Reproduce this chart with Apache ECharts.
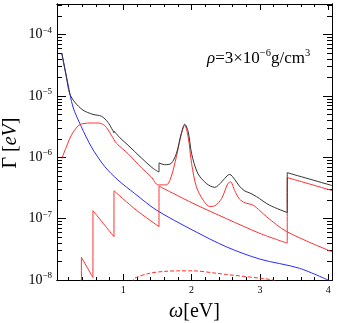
<!DOCTYPE html>
<html>
<head>
<meta charset="utf-8">
<script src="https://cdn.jsdelivr.net/npm/echarts@6.0.0/dist/echarts.min.js"></script>
<style>
html, body { margin: 0; padding: 0; background: #fff; }
#main { width: 337px; height: 323px; }
</style>
</head>
<body>
<div id="main"></div>
<script>
// [omega (eV), Gamma (eV)]; a repeated omega is a jump
const total = [
  [0.10, 5.01e-5], [0.167, 2.04e-5], [0.215, 1.10e-5], [0.29, 7.94e-6], [0.41, 5.89e-6],
  [0.556, 5.01e-6], [0.68, 4.68e-6], [0.776, 3.72e-6], [0.864, 2.51e-6], [0.864, 2.69e-6],
  [0.95, 2.09e-6], [1.069, 1.58e-6], [1.265, 9.77e-7], [1.435, 6.61e-7], [1.523, 5.75e-7],
  [1.523, 8.13e-7], [1.606, 7.59e-7], [1.70, 7.94e-7], [1.777, 1.15e-6], [1.85, 2.45e-6],
  [1.90, 3.47e-6], [1.95, 2.63e-6], [2.0, 1.15e-6], [2.09, 5.50e-7], [2.22, 3.72e-7],
  [2.34, 3.24e-7], [2.44, 3.98e-7], [2.53, 5.13e-7], [2.56, 5.25e-7], [2.63, 4.37e-7],
  [2.70, 3.39e-7], [2.78, 2.82e-7], [2.85, 2.63e-7], [2.95, 2.29e-7], [3.14, 1.66e-7],
  [3.40, 1.26e-7], [3.40, 5.62e-7], [4.055, 3.47e-7]
];
const boundBound = [
  [0.10, 9.55e-7], [0.167, 1.48e-6], [0.24, 2.29e-6], [0.337, 3.24e-6], [0.41, 3.55e-6],
  [0.55, 3.63e-6], [0.63, 3.63e-6], [0.728, 3.31e-6], [0.826, 2.29e-6], [0.90, 1.70e-6],
  [1.069, 1.15e-6], [1.265, 6.76e-7], [1.41, 4.79e-7], [1.51, 3.55e-7], [1.63, 3.55e-7],
  [1.70, 4.79e-7], [1.777, 1.02e-6], [1.85, 2.45e-6], [1.90, 3.31e-6], [1.95, 2.14e-6],
  [2.0, 7.94e-7], [2.07, 3.31e-7], [2.17, 2.00e-7], [2.265, 1.58e-7], [2.34, 1.62e-7],
  [2.44, 2.14e-7], [2.53, 3.72e-7], [2.57, 3.98e-7], [2.63, 2.88e-7], [2.70, 2.09e-7],
  [2.78, 1.82e-7], [2.90, 1.66e-7], [3.0, 1.35e-7], [3.1, 1.07e-7], [3.39, 6.17e-8],
  [4.055, 2.88e-8]
];
const boundFree = [
  [0.387, 1e-9], [0.387, 2.34e-8], [0.556, 1.10e-8], [0.556, 1.35e-7], [0.71, 8.3e-8],
  [0.864, 5.07e-8], [0.864, 2.85e-7], [1.19, 1.38e-7], [1.523, 7.41e-8], [1.523, 3.39e-7],
  [2.02, 1.78e-7], [2.51, 1.0e-7], [3.0, 5.75e-8], [3.40, 3.98e-8], [3.40, 4.68e-7],
  [4.055, 2.88e-7]
];
const freeFree = [
  [0.10, 5.01e-5], [0.19, 1.58e-5], [0.264, 6.61e-6], [0.386, 3.16e-6], [0.533, 1.48e-6],
  [0.728, 7.08e-7], [0.922, 4.27e-7], [1.167, 2.57e-7], [1.485, 1.38e-7], [2.02, 6.46e-8],
  [2.51, 3.47e-8], [3.0, 2.19e-8], [3.58, 1.55e-8], [4.055, 9.33e-9]
];
const other = [
  [1.13, 8.9e-9], [1.167, 1.07e-8], [1.39, 1.29e-8], [1.6, 1.38e-8], [1.83, 1.41e-8],
  [2.02, 1.41e-8], [2.36, 1.29e-8], [2.51, 1.23e-8], [3.0, 1.07e-8], [3.19, 1.0e-8],
  [3.25, 9.2e-9]
];

const xLabels = [1, 2, 3, 4];
const yLabels = [1e-8, 1e-7, 1e-6, 1e-5, 1e-4];

const serif = 'Liberation Serif';
const X_MIN = 0.03, X_MAX = 4.055;
const Y_MIN = 1e-8, Y_MAX = Math.pow(10, -3.5);

const xMinor = [];
for (let i = 1; i <= 20; i++) {
  if (i % 5) xMinor.push(i / 5);
}
const yMinor = [];
for (let e = -8; e <= -4; e++) {
  for (let k = 2; k <= 9; k++) {
    const v = k * Math.pow(10, e);
    if (v < Y_MAX) yMinor.push(v);
  }
}

// split at jumps so the smoothing does not bend the vertical steps
function withBreaks(pts) {
  const out = [];
  pts.forEach((p, i) => {
    const prev = pts[i - 1];
    if (prev && prev[0] === p[0]) {
      out.push(null, prev, p, null, p);
    } else {
      out.push(p);
    }
  });
  return out;
}

function xAx(pos, ticks, len, withLabels) {
  return {
    type: 'value', position: pos, min: X_MIN, max: X_MAX,
    axisLine: { show: true, onZero: false, lineStyle: { color: '#000', width: 1 } },
    axisTick: { show: true, inside: true, length: len, customValues: ticks, lineStyle: { color: '#000' } },
    axisLabel: {
      show: withLabels, customValues: xLabels, margin: 5,
      fontFamily: serif, fontSize: 10, color: '#000'
    },
    splitLine: { show: false }
  };
}

function yAx(pos, ticks, len, withLabels) {
  return {
    type: 'log', position: pos, min: Y_MIN, max: Y_MAX,
    axisLine: { show: true, onZero: false, lineStyle: { color: '#000', width: 1 } },
    axisTick: { show: true, inside: true, length: len, customValues: ticks, lineStyle: { color: '#000' } },
    axisLabel: {
      show: withLabels, customValues: yLabels, margin: 5,
      formatter: v => '{b|10}{s|\u2212' + (-Math.round(Math.log10(v))) + '}',
      rich: {
        b: { fontFamily: serif, fontSize: 14, color: '#000', lineHeight: 18 },
        s: { fontFamily: serif, fontSize: 9, color: '#000', verticalAlign: 'top' }
      }
    },
    splitLine: { show: false }
  };
}

const xBottom = xAx('bottom', xLabels, 6, true);
xBottom.name = '{i|\u03c9}{n|[eV]}';
xBottom.nameLocation = 'middle';
xBottom.nameGap = 22;
xBottom.nameTextStyle = {
  rich: {
    i: { fontFamily: serif, fontSize: 20, fontStyle: 'italic', color: '#000' },
    n: { fontFamily: serif, fontSize: 20, color: '#000' }
  }
};

const line = (data, color, type) => ({
  type: 'line', data: withBreaks(data), showSymbol: false, symbol: 'none',
  smooth: 0.3, connectNulls: false, clip: true,
  lineStyle: { color: color, width: 1, type: type || 'solid' },
  xAxisIndex: 0, yAxisIndex: 0, z: 3
});

const chart = echarts.init(document.getElementById('main'));
chart.setOption({
  animation: false,
  backgroundColor: '#fff',
  grid: { left: 57, right: 5, top: 4, bottom: 43, containLabel: false, outerBoundsMode: 'none' },
  xAxis: [
    xBottom,
    xAx('bottom', xMinor, 3, false),
    xAx('top', xLabels, 6, false),
    xAx('top', xMinor, 3, false)
  ],
  yAxis: [
    yAx('left', yLabels, 9, true),
    yAx('left', yMinor, 5, false),
    yAx('right', yLabels, 9, false),
    yAx('right', yMinor, 5, false)
  ],
  graphic: [{
    // y axis title, drawn by hand so it can sit close to the tick labels
    type: 'text', x: 11, y: 143, rotation: Math.PI / 2,
    style: {
      text: '{n|\u0393 [}{i|eV}{n|]}',
      align: 'center', verticalAlign: 'middle',
      rich: {
        i: { fontFamily: serif, fontSize: 20, fontStyle: 'italic', color: '#000' },
        n: { fontFamily: serif, fontSize: 20, color: '#000' }
      }
    }
  }, {
    type: 'text', left: 207, top: 48,
    style: {
      text: '{i|\u03c1}{n|=3\u00d710}{s|\u22126}{n|g/cm}{s|3}',
      rich: {
        i: { fontFamily: serif, fontSize: 17, fontStyle: 'italic', color: '#000', lineHeight: 21 },
        n: { fontFamily: serif, fontSize: 17, color: '#000', lineHeight: 21 },
        s: { fontFamily: serif, fontSize: 10.5, color: '#000', verticalAlign: 'top' }
      }
    }
  }],
  series: [
    line(freeFree, '#2b2bff'),
    line(other, '#ff3030', 'dashed'),
    line(boundFree, '#ff3030'),
    line(boundBound, '#ff3030'),
    line(total, '#333333')
  ]
});
</script>
</body>
</html>
